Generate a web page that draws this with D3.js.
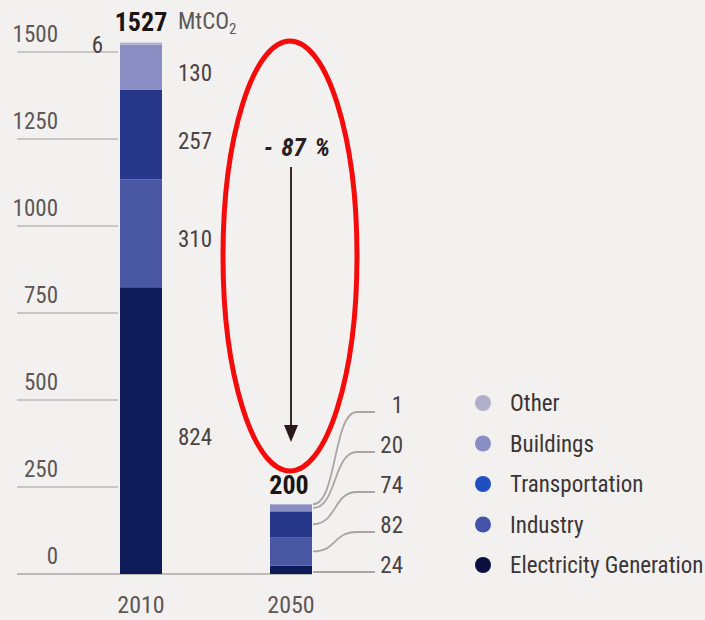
<!DOCTYPE html>
<html>
<head>
<meta charset="utf-8">
<script src="https://cdn.jsdelivr.net/npm/d3@7/dist/d3.min.js"></script>
<style>
  html, body { margin: 0; padding: 0; background: #f2f1ef; }
  svg { display: block; }
  text { font-family: "Liberation Sans Narrow", "Roboto Condensed", "DejaVu Sans Condensed", "Arial Narrow", sans-serif; font-stretch: condensed; }
</style>
</head>
<body>
<svg id="chart" width="705" height="620"></svg>
<script>
// ---- data ----
const years = ["2010", "2050"];
const sectors = ["Electricity Generation", "Industry", "Transportation", "Buildings", "Other"];
const values2010 = [824, 310, 257, 130, 6];
const values2050 = [24, 82, 74, 20, 1];
const totals = [1527, 200];
const yTicks = [0, 250, 500, 750, 1000, 1250, 1500];
const unitLabel = "MtCO";
const reductionLabel = "- 87 %";
const legendOrder = ["Other", "Buildings", "Transportation", "Industry", "Electricity Generation"];

// ---- styles ----
const barColors = {
  "Electricity Generation": "#0d1b58",
  "Industry": "#4a57a2",
  "Transportation": "#263789",
  "Buildings": "#898dc1",
  "Other": "#aeb0d0"
};
const legendColors = {
  "Other": "#b0afca",
  "Buildings": "#888dc3",
  "Transportation": "#1f4fc0",
  "Industry": "#4453a8",
  "Electricity Generation": "#0b103f"
};

const svg = d3.select("#chart");
const y = d3.scaleLinear().domain([0, 1500]).range([574, 52]);
const x = d3.scaleBand().domain(years).range([66, 366]).paddingInner(0.72).paddingOuter(0.36);
const bw = x.bandwidth();

// gridlines
svg.append("g").selectAll("line").data(yTicks.filter(d => d > 0)).join("line")
  .attr("x1", 17).attr("x2", x("2010") - 2)
  .attr("y1", d => y(d)).attr("y2", d => y(d))
  .attr("stroke", "#c9c6c3").attr("stroke-width", 2);
// baseline
svg.append("line").attr("x1", 17).attr("x2", x("2050") + bw).attr("y1", y(0)).attr("y2", y(0))
  .attr("stroke", "#bdb9b6").attr("stroke-width", 2);

// tick labels
svg.append("g").selectAll("text").data(yTicks).join("text")
  .attr("x", 58).attr("y", d => y(d) - 10)
  .attr("text-anchor", "end").attr("font-size", 23).attr("fill", "#5e5657")
  .text(d => d);

// stacked bars
const series = [values2010, values2050];
years.forEach((yr, i) => {
  let acc = 0;
  const segs = series[i].map((v, j) => { const s = { key: sectors[j], y0: acc, y1: acc + v, v }; acc += v; return s; });
  svg.append("g").selectAll("rect").data(segs).join("rect")
    .attr("x", x(yr)).attr("width", bw)
    .attr("y", d => y(d.y1)).attr("height", d => y(d.y0) - y(d.y1))
    .attr("fill", d => barColors[d.key]);
  series[i].segs = segs;
});

// 2010 labels
const s2010 = series[0].segs;
svg.append("g").selectAll("text").data(s2010.filter(d => d.key !== "Other")).join("text")
  .attr("x", x("2010") + bw + 16)
  .attr("y", d => (y(d.y0) + y(d.y1)) / 2 + 6)
  .attr("dy", "0.35em")
  .attr("font-size", 23).attr("fill", "#4a4243")
  .text(d => d.v);
const other2010 = s2010.find(d => d.key === "Other");
svg.append("text").attr("x", x("2010") - 17).attr("y", y(other2010.y1) + 10)
  .attr("text-anchor", "end").attr("font-size", 23).attr("fill", "#4a4243").text(other2010.v);

// totals
svg.append("g").selectAll("text").data(totals).join("text")
  .attr("x", (d, i) => x(years[i]) + bw / 2 + (i === 0 ? 0 : -2))
  .attr("y", (d, i) => y(d) - 10 - (i === 0 ? 2 : 0))
  .attr("text-anchor", "middle").attr("font-size", 26).attr("font-weight", "bold").attr("fill", "#1a1414")
  .text(d => d);
// unit
const unit = svg.append("text").attr("x", 178).attr("y", 29).attr("font-size", 23).attr("fill", "#5e5657");
unit.append("tspan").text(unitLabel);
unit.append("tspan").attr("font-size", 15).attr("dy", 5).text("2");

// 2050 labels with leader lines
const s2050 = series[1].segs;
const labelX = 403;
const bx = x("2050") + bw + 1;
s2050.forEach((d, i) => {
  const y0 = (y(d.y0) + y(d.y1)) / 2;
  const ly = y(0) - 2 - i * 40;
  const p = d3.path();
  if (i === 0) {
    p.moveTo(bx, ly); p.lineTo(labelX - 28, ly);
  } else {
    const ex = bx + 44;
    p.moveTo(bx, y0);
    p.bezierCurveTo(bx + 24, y0, ex - 24, ly, ex, ly);
    p.lineTo(labelX - 28, ly);
  }
  svg.append("path").attr("d", p.toString()).attr("fill", "none")
    .attr("stroke", "#a9a5a3").attr("stroke-width", 1.8);
  svg.append("text").attr("x", labelX).attr("y", ly + 1)
    .attr("text-anchor", "end").attr("font-size", 23).attr("fill", "#4a4243").text(d.v);
});

// x axis labels
svg.append("g").selectAll("text").data(years).join("text")
  .attr("x", d => x(d) + bw / 2).attr("y", 613)
  .attr("text-anchor", "middle").attr("font-size", 24).attr("fill", "#5e5657")
  .text(d => d);

// reduction annotation
const ax = 291;
svg.append("line").attr("x1", ax).attr("x2", ax).attr("y1", 167).attr("y2", 428)
  .attr("stroke", "#3a2a2a").attr("stroke-width", 2);
svg.append("path").attr("d", `M${ax - 7},425 L${ax + 7},425 L${ax},442 Z`).attr("fill", "#2a1818");
svg.append("text").attr("x", 297).attr("y", 156).attr("text-anchor", "middle")
  .attr("font-size", 25).attr("font-weight", "bold").attr("font-style", "italic").attr("fill", "#2a2224")
  .attr("word-spacing", 3)
  .text(reductionLabel);
svg.append("ellipse").attr("cx", 290).attr("cy", 256).attr("rx", 67).attr("ry", 215)
  .attr("fill", "none").attr("stroke", "#f40c0c").attr("stroke-width", 5);

// legend
const lg = svg.append("g").selectAll("g").data(legendOrder).join("g")
  .attr("transform", (d, i) => `translate(483,${403 + i * 40.5})`);
lg.append("circle").attr("r", 8).attr("fill", d => legendColors[d]);
lg.append("text").attr("x", 27).attr("dy", "0.35em").attr("font-size", 23).attr("fill", "#3b3536").text(d => d);
</script>
</body>
</html>
